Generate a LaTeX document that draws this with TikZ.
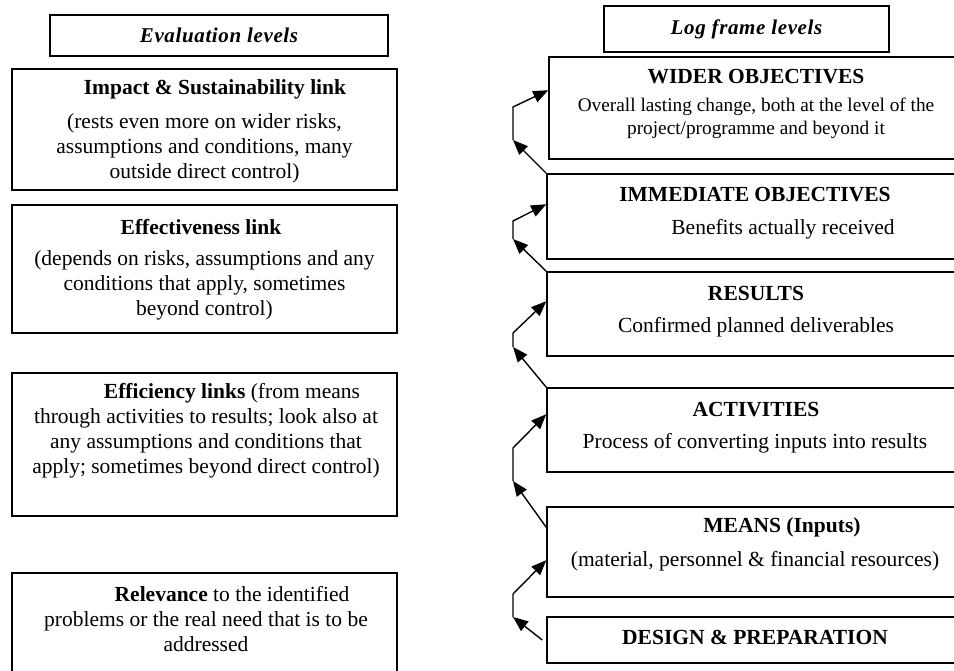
\documentclass[tikz,border=0pt]{standalone}
\usepackage{fontspec}
\setmainfont{Liberation Serif}
\usetikzlibrary{arrows.meta,calc}
\begin{document}
\begin{tikzpicture}[x=1pt,y=-1pt,
  box/.style={draw,line width=1.5pt,inner sep=0pt},
  txt/.style={align=center,inner sep=0pt,font=\fontsize{21.5}{25}\selectfont},
  hd/.style={txt,font=\fontsize{21.5}{25}\selectfont\bfseries},
  ttl/.style={txt,font=\fontsize{21}{24}\selectfont\bfseries\itshape\addfontfeature{LetterSpace=3}},
  arr/.style={line width=1.4pt,-{Triangle[length=15pt,width=12pt]}}]
\useasboundingbox (0,0) rectangle (954,671);
\clip (0,0) rectangle (954,671);
% left column
\node[box,minimum width=338pt,minimum height=41pt] (evt) at (219,35.5) {};
\node[ttl] at (evt.center) {Evaluation levels};
\node[box,minimum width=385pt,minimum height=121pt] (impact) at (204.5,129.5) {};
\node[hd] at (215,89) {Impact \& Sustainability link};
\node[txt] at (204.5,148) {(rests even more on wider risks,\\assumptions and conditions, many\\outside direct control)};
\node[box,minimum width=385pt,minimum height=128pt] (effect) at (204.5,269) {};
\node[hd] at (201,227) {Effectiveness link};
\node[txt] at (204.5,285) {(depends on risks, assumptions and any\\conditions that apply, sometimes\\beyond control)};
\node[box,minimum width=385pt,minimum height=143pt] (effic) at (204.5,444.5) {};
\node[txt] at (206,431) {\hspace*{52pt}\textbf{Efficiency links} (from means\\through activities to results; look also at\\any assumptions and conditions that\\apply; sometimes beyond direct control)};
\node[box,minimum width=385pt,minimum height=107pt] (relev) at (204.5,626.5) {};
\node[txt] at (206,619) {\hspace*{52pt}\textbf{Relevance} to the identified\\problems or the real need that is to be\\addressed};
% right column
\node[box,minimum width=285pt,minimum height=46pt] (lft) at (746.5,29) {};
\node[ttl] at (lft.center) {Log frame levels};
\node[box,minimum width=414pt,minimum height=102pt] (wider) at (756,108) {};
\node[hd] at (756,77) {WIDER OBJECTIVES};
\node[txt,font=\fontsize{19.3}{23}\selectfont] at (756,118.5) {Overall lasting change, both at the level of the\\project/programme and beyond it};
\node[box,minimum width=416pt,minimum height=85pt] (imm) at (755,216.5) {};
\node[hd] at (755,195) {IMMEDIATE OBJECTIVES};
\node[txt] at (783,229) {Benefits actually received};
\node[box,minimum width=416pt,minimum height=84pt] (res) at (755,314) {};
\node[hd] at (756,293) {RESULTS};
\node[txt] at (756,327) {Confirmed planned deliverables};
\node[box,minimum width=416pt,minimum height=84pt] (act) at (755,430) {};
\node[hd] at (756,410) {ACTIVITIES};
\node[txt] at (755,443) {Process of converting inputs into results};
\node[box,minimum width=416pt,minimum height=90pt] (means) at (755,552) {};
\node[hd] at (782,527) {MEANS (Inputs)};
\node[txt] at (755,561) {(material, personnel \& financial resources)};
\node[box,minimum width=416pt,minimum height=46pt] (design) at (755,640) {};
\node[hd] at (755,637) {DESIGN \& PREPARATION};
% connectors
\coordinate (a1) at (513,140); \coordinate (b1) at (513,107);
\coordinate (a2) at (513,239); \coordinate (b2) at (513,221);
\coordinate (a3) at (513,347); \coordinate (b3) at (513,333);
\coordinate (a4) at (513,481); \coordinate (b4) at (513,448);
\coordinate (a5) at (513,617); \coordinate (b5) at (513,594);
\draw[arr] (imm.north west) -- (a1);
\draw[arr] (a1) -- (b1) -- ($(wider.north west)+(0,34)$);
\draw[arr] (res.north west) -- (a2);
\draw[arr] (a2) -- (b2) -- ($(imm.north west)+(0,31)$);
\draw[arr] (act.north west) -- (a3);
\draw[arr] (a3) -- (b3) -- ($(res.north west)+(0,30)$);
\draw[arr] ($(means.north west)+(0,21)$) -- (a4);
\draw[arr] (a4) -- (b4) -- ($(act.north west)+(0,27)$);
\draw[arr] ($(design.west)+(-4,0)$) -- (a5);
\draw[arr] (a5) -- (b5) -- ($(means.north west)+(0,54)$);
\end{tikzpicture}
\end{document}
